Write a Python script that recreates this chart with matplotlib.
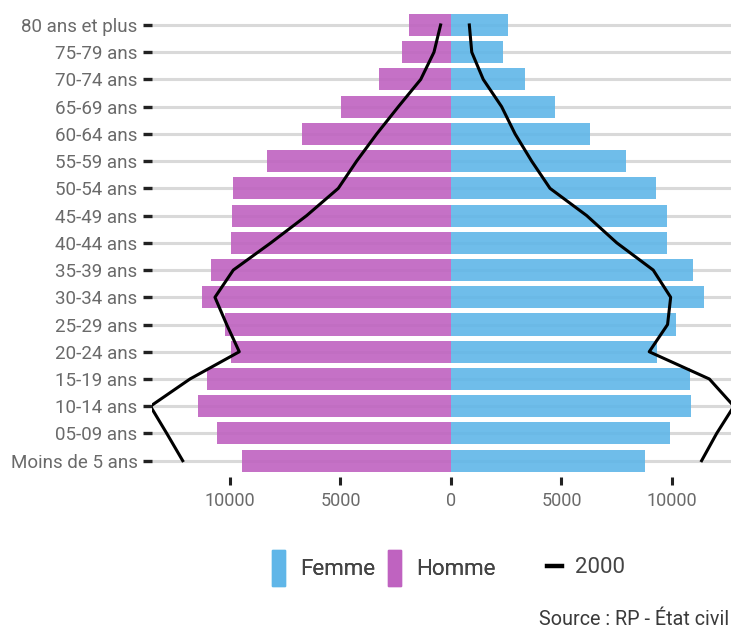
import matplotlib
matplotlib.use("Agg")
import matplotlib.pyplot as plt
from matplotlib.patches import Patch
from matplotlib.lines import Line2D
import numpy as np

plt.rcParams['font.family'] = ['Roboto', 'DejaVu Sans']

# age groups, from bottom to top
ages = ["Moins de 5 ans", "05-09 ans", "10-14 ans", "15-19 ans", "20-24 ans",
        "25-29 ans", "30-34 ans", "35-39 ans", "40-44 ans", "45-49 ans",
        "50-54 ans", "55-59 ans", "60-64 ans", "65-69 ans", "70-74 ans",
        "75-79 ans", "80 ans et plus"]

# current population (bars)
homme = [9440, 10600, 11430, 11050, 9950, 10230, 11270, 10870, 9970, 9920,
         9880, 8340, 6760, 4990, 3270, 2230, 1890]
femme = [8780, 9910, 10870, 10810, 9340, 10180, 11450, 10960, 9790, 9790,
         9260, 7900, 6290, 4720, 3360, 2350, 2580]

# population in 2000 (lines)
homme_2000 = [12140, 12860, 13600, 11810, 9580, 10150, 10680, 9850, 8150, 6530,
              5100, 4270, 3360, 2380, 1370, 770, 470]
femme_2000 = [11340, 12020, 12800, 11690, 8970, 9800, 9940, 9150, 7500, 6140,
              4480, 3650, 2900, 2290, 1460, 940, 830]

xticks = [-10000, -5000, 0, 5000, 10000]

col_f = "#5fb6e8"
col_h = "#bf62c0"
grey_txt = "#6a6a6a"

fig = plt.figure(figsize=(7.31, 6.33), dpi=100)
ax = fig.add_axes([0.2079, 0.2464, 0.7921, 0.74])

y = np.arange(len(ages))

for yy in y:
    ax.axhline(yy, color="#d9d9d9", lw=2.2, zorder=0)

ax.barh(y, -np.array(homme), height=0.81, color=col_h, alpha=0.9, zorder=2)
ax.barh(y, femme, height=0.81, color=col_f, alpha=0.9, zorder=2)

ax.plot(-np.array(homme_2000), y, color="black", lw=2.2, zorder=3)
ax.plot(femme_2000, y, color="black", lw=2.2, zorder=3)

ax.set_xlim(-13530, 12670)
ax.set_ylim(-0.6, len(ages) - 0.4)

ax.set_yticks(y)
ax.set_yticklabels(ages)
ax.set_xticks(xticks)
ax.set_xticklabels([str(abs(v)) for v in xticks])

for s in ax.spines.values():
    s.set_visible(False)

ax.tick_params(axis="y", length=6.5, width=2.4, color="#222222", pad=4,
               labelsize=13.5, labelcolor=grey_txt)
ax.tick_params(axis="x", length=5.5, width=2.2, color="#222222", pad=5,
               labelsize=13, labelcolor=grey_txt)

leg1 = fig.legend(handles=[Patch(color=col_f, alpha=0.9, label="Femme"),
                           Patch(color=col_h, alpha=0.9, label="Homme")],
                  loc="center", bbox_to_anchor=(0.525, 0.1027), ncol=2,
                  frameon=False, fontsize=16, handlelength=0.58, handleheight=2.16,
                  handletextpad=0.68, columnspacing=0.6, borderpad=0,
                  labelcolor="#444444")
fig.add_artist(leg1)
fig.legend(handles=[Line2D([0], [0], color="black", lw=3.2, label="2000")],
           loc="center", bbox_to_anchor=(0.8016, 0.1027), frameon=False,
           fontsize=16, handlelength=0.68, handletextpad=0.55, borderpad=0,
           labelcolor="#444444")

fig.text(0.998, 0.022, "Source : RP - État civil", ha="right", va="center",
         fontsize=14.2, color="#3a3a3a")

fig.savefig("out.png", dpi=100)
